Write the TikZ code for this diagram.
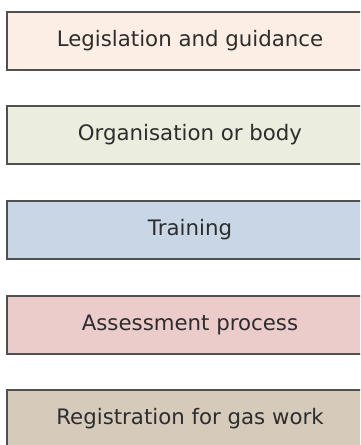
\documentclass[tikz,border=0pt]{standalone}
\usepackage{fontspec}
\setmainfont{DejaVu Sans}
\usepackage{tikz}
\definecolor{legis}{RGB}{252,238,228}
\definecolor{organ}{RGB}{235,238,222}
\definecolor{train}{RGB}{201,214,229}
\definecolor{assess}{RGB}{236,203,203}
\definecolor{regist}{RGB}{214,203,187}
\definecolor{edge}{RGB}{80,80,80}
\definecolor{words}{RGB}{45,45,45}

\begin{document}
\begin{tikzpicture}[x=1pt,y=-1pt,
    keybox/.style={draw=edge, line width=1.4pt, minimum width=366pt, minimum height=58pt,
      inner sep=0pt, text=words, font=\fontsize{21.3}{25}\selectfont}]
      \useasboundingbox (0,0) rectangle (360,445);
      \clip (0,0) rectangle (360,445);
      \node (legis) at (190,41) [keybox, fill=legis] {Legislation and guidance};
      \node (organ) at (190,135) [keybox, fill=organ] {Organisation or body};
      \node (train) at (190,230) [keybox, fill=train] {Training};
      \node (assess) at (190,325) [keybox, fill=assess] {Assessment process};
      \node (regist) at (190,419) [keybox, fill=regist] {Registration for gas work};
    \end{tikzpicture}
\end{document}
